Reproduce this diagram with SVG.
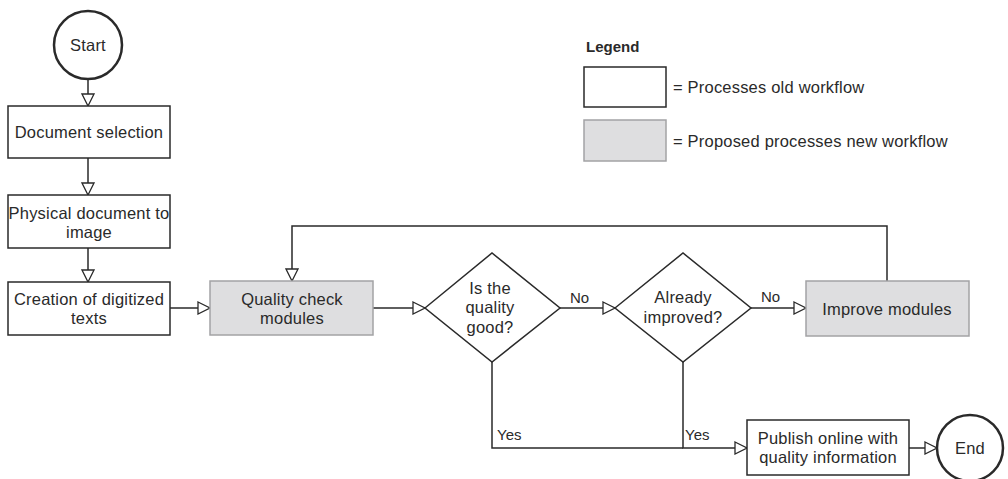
<svg xmlns="http://www.w3.org/2000/svg" width="1008" height="479" viewBox="0 0 1008 479">
<style>
text{font-family:"Liberation Sans",Arial,sans-serif;font-size:16.5px;letter-spacing:0.2px;fill:#2a2a2a;text-anchor:middle;dominant-baseline:central}
.lbl{text-anchor:start;font-size:15px;letter-spacing:0}
.old{fill:#fff;stroke:#2a2a2a;stroke-width:1.5}
.new{fill:#dedee0;stroke:#a3a3a5;stroke-width:1.5}
.term{fill:#fff;stroke:#2a2a2a;stroke-width:2.5}
.ln{fill:none;stroke:#2a2a2a;stroke-width:1.5}
.arr{marker-end:url(#ah)}
</style>
<defs>
<marker id="ah" markerUnits="userSpaceOnUse" viewBox="0 0 14 14" refX="13" refY="7" markerWidth="14" markerHeight="14" orient="auto">
<path d="M1,1 L13,7 L1,13 Z" fill="#fff" stroke="#2a2a2a" stroke-width="1.3"/>
</marker>
</defs>
<g id="connectors">
<path class="ln arr" d="M88,79 V106"/>
<path class="ln arr" d="M88,158 V195"/>
<path class="ln arr" d="M88,248 V282"/>
<path class="ln arr" d="M170,308 H210"/>
<path class="ln arr" d="M373,308 H425"/>
<path class="ln arr" d="M560,308 H615"/>
<path class="ln arr" d="M751,308 H806"/>
<path class="ln arr" d="M887,281 V226 H292 V281"/>
<path class="ln" d="M492,362 V448 H683"/>
<path class="ln arr" d="M683,362 V448 H747"/>
<path class="ln arr" d="M909,448 H937"/>
<text class="lbl" x="570" y="297">No</text>
<text class="lbl" x="761" y="296">No</text>
<text class="lbl" x="497" y="434">Yes</text>
<text class="lbl" x="685" y="434">Yes</text>
</g>
<g id="start"><circle class="term" cx="88" cy="45" r="34"/><text x="88" y="45">Start</text></g>
<g id="doc-selection"><rect class="old" x="8" y="106" width="162" height="52"/><text x="89" y="132">Document selection</text></g>
<g id="physical-to-image"><rect class="old" x="8" y="195" width="162" height="53"/><text x="89" y="213">Physical document to</text><text x="89" y="232">image</text></g>
<g id="creation"><rect class="old" x="8" y="282" width="162" height="53"/><text x="89" y="299">Creation of digitized</text><text x="89" y="318">texts</text></g>
<g id="quality-check"><rect class="new" x="210" y="281" width="163" height="54"/><text x="292" y="299">Quality check</text><text x="292" y="318">modules</text></g>
<g id="is-quality-good"><path class="old" d="M425,308 L492,253 L560,308 L492,362 Z"/><text x="490" y="288">Is the</text><text x="490" y="307">quality</text><text x="490" y="327">good?</text></g>
<g id="already-improved"><path class="old" d="M615,308 L683,253 L751,308 L683,362 Z"/><text x="683" y="297">Already</text><text x="683" y="317">improved?</text></g>
<g id="improve-modules"><rect class="new" x="806" y="281" width="163" height="55"/><text x="887" y="309">Improve modules</text></g>
<g id="publish"><rect class="old" x="747" y="420" width="162" height="55"/><text x="828" y="438">Publish online with</text><text x="828" y="457">quality information</text></g>
<g id="end"><circle class="term" cx="970" cy="448" r="33"/><text x="970" y="448">End</text></g>
<g id="legend">
<text x="586" y="46" style="text-anchor:start;font-weight:bold;font-size:15px;letter-spacing:0">Legend</text>
<rect class="old" x="584" y="67" width="82" height="40"/>
<text x="673" y="87" style="text-anchor:start">= Processes old workflow</text>
<rect class="new" x="584" y="120" width="82" height="41"/>
<text x="673" y="141" style="text-anchor:start">= Proposed processes new workflow</text>
</g>
</svg>
